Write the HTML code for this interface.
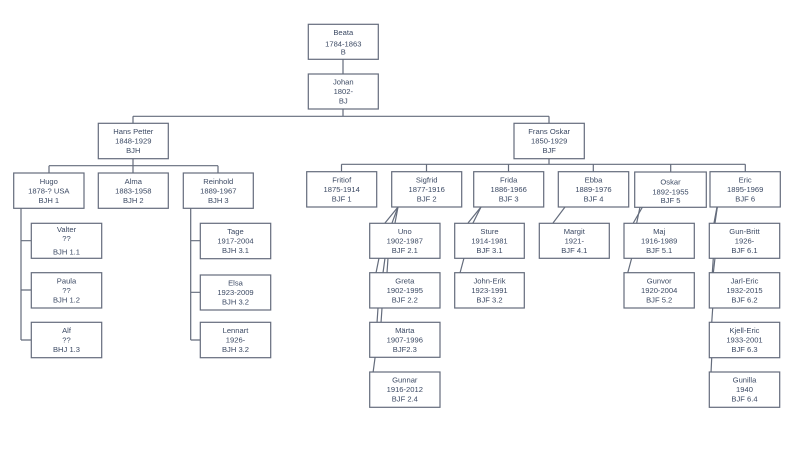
<!DOCTYPE html>
<html><head><meta charset="utf-8"><style>
html,body{margin:0;padding:0;background:#fff;}
svg{display:block;}
text{font-family:"Liberation Sans",sans-serif;font-size:7.6px;fill:#3c4a64;text-anchor:middle;}
rect{fill:#fff;stroke:#646c7c;stroke-width:1.2;}
.c{stroke:#646c7c;stroke-width:1.2;fill:none;}
</style></head><body>
<svg width="799" height="461" viewBox="0 0 799 461" xmlns="http://www.w3.org/2000/svg">
<!-- connectors -->
<g class="c">
<path d="M343 59V74M343 109V116.3M133 116.3H549M133 116.3V123M549 116.3V123"/>
<path d="M133 159V165.7M49 165.7H218M49 165.7V173M133 165.7V173M218 165.7V173"/>
<path d="M549 159V164.3M341.5 164.3H745.3M341.5 164.3V172M426.5 164.3V172M508.5 164.3V172M593.3 164.3V172M670.7 164.3V172M745.3 164.3V172"/>
<path d="M21 208V340M21 240.7H31M21 290H31M21 340H31"/>
<path d="M190.7 208V340M190.7 240.7H200M190.7 292.3H200M190.7 340H200"/>
<!-- Sigfrid diagonals -->
<path d="M398 207L385 223L379 258L376 273L374 285"/>
<path d="M398 207L392 223L385 258L383 273L378 308L377 323L375 335"/>
<path d="M398 207L395 223L388 258L387 273L382 308L381 323L375 358L373 373L372 385"/>
<!-- Frida -->
<path d="M481 207L468 223"/>
<path d="M481 207L473 223L464 258L460 273L458 285"/>
<!-- Ebba -->
<path d="M565 207L553 223"/>
<!-- Oskar -->
<path d="M642.5 207L633.3 223"/>
<path d="M640 207L636.7 223L631.7 258L627.7 273L626 285"/>
<!-- Eric -->
<path d="M717.3 207L714.3 223"/>
<path d="M717.3 207L715 223L715 258L713.3 273L712.5 285"/>
<path d="M717 207L714 223L713.3 258L712.3 273L712.7 308L711.7 323L711.7 358L711 373L711 385"/>
</g>
<!-- boxes -->
<g>
<rect x="308.3" y="24.3" width="70" height="35"/>
<rect x="308.3" y="74" width="70" height="35"/>
<rect x="98.3" y="123.3" width="70" height="35.4"/>
<rect x="514" y="123.3" width="70.3" height="35.4"/>
<rect x="13.7" y="173" width="70.3" height="35.3"/>
<rect x="98.3" y="173" width="70" height="35.3"/>
<rect x="183.3" y="173" width="70" height="35.3"/>
<rect x="306.7" y="171.7" width="70" height="35.3"/>
<rect x="391.7" y="171.7" width="70" height="35.3"/>
<rect x="473.7" y="171.7" width="70" height="35.3"/>
<rect x="558.3" y="171.7" width="70.4" height="35.3"/>
<rect x="634.7" y="172" width="71.6" height="35.3"/>
<rect x="710" y="171.7" width="70.3" height="35.3"/>
<rect x="31.3" y="223.3" width="70.4" height="35"/>
<rect x="31.3" y="272.7" width="70.4" height="35.3"/>
<rect x="31.3" y="322.3" width="70.4" height="35.4"/>
<rect x="200.3" y="223.3" width="70.4" height="35.4"/>
<rect x="200.3" y="275" width="70.4" height="35"/>
<rect x="200.3" y="322.3" width="70.4" height="35.4"/>
<rect x="369.7" y="223.3" width="70.3" height="35"/>
<rect x="369.7" y="272.7" width="70.3" height="35.3"/>
<rect x="369.7" y="322.3" width="70.3" height="35"/>
<rect x="369.7" y="372" width="70.3" height="35.3"/>
<rect x="454.7" y="223.3" width="69.6" height="35"/>
<rect x="454.7" y="272.7" width="69.6" height="35.3"/>
<rect x="539.3" y="223.3" width="70" height="35"/>
<rect x="624" y="223.3" width="70.3" height="35"/>
<rect x="624" y="272.7" width="70.3" height="35.3"/>
<rect x="709.3" y="223.3" width="70.4" height="35"/>
<rect x="709.3" y="272.7" width="70.4" height="35.3"/>
<rect x="709.3" y="322.3" width="70.4" height="35.4"/>
<rect x="709.3" y="372" width="70.4" height="35.3"/>
</g>
<!-- labels -->
<g>
<text x="343.3" y="35">Beata</text><text x="343.3" y="46.7">1784-1863</text><text x="343.3" y="54.7">B</text>
<text x="343.3" y="84.3">Johan</text><text x="343.3" y="93.8">1802-</text><text x="343.3" y="103.3">BJ</text>
<text x="133.3" y="133.8">Hans Petter</text><text x="133.3" y="143.4">1848-1929</text><text x="133.3" y="152.8">BJH</text>
<text x="549.2" y="133.8">Frans Oskar</text><text x="549.2" y="143.4">1850-1929</text><text x="549.2" y="152.8">BJF</text>
<text x="48.8" y="183.8">Hugo</text><text x="48.8" y="193.3">1878-? USA</text><text x="48.8" y="202.8">BJH 1</text>
<text x="133.3" y="183.8">Alma</text><text x="133.3" y="193.3">1883-1958</text><text x="133.3" y="202.8">BJH 2</text>
<text x="218.3" y="183.8">Reinhold</text><text x="218.3" y="193.3">1889-1967</text><text x="218.3" y="202.8">BJH 3</text>
<text x="341.7" y="182.5">Fritiof</text><text x="341.7" y="192">1875-1914</text><text x="341.7" y="201.5">BJF 1</text>
<text x="426.7" y="182.5">Sigfrid</text><text x="426.7" y="192">1877-1916</text><text x="426.7" y="201.5">BJF 2</text>
<text x="508.7" y="182.5">Frida</text><text x="508.7" y="192">1886-1966</text><text x="508.7" y="201.5">BJF 3</text>
<text x="593.5" y="182.5">Ebba</text><text x="593.5" y="192">1889-1976</text><text x="593.5" y="201.5">BJF 4</text>
<text x="670.5" y="184.4">Oskar</text><text x="670.5" y="194.4">1892-1955</text><text x="670.5" y="202.8">BJF 5</text>
<text x="745.2" y="182.5">Eric</text><text x="745.2" y="192">1895-1969</text><text x="745.2" y="201.5">BJF 6</text>
<text x="66.5" y="232">Valter</text><text x="66.5" y="241">??</text><text x="66.5" y="254.4">BJH 1.1</text>
<text x="66.5" y="283.3">Paula</text><text x="66.5" y="292.8">??</text><text x="66.5" y="302.3">BJH 1.2</text>
<text x="66.5" y="333">Alf</text><text x="66.5" y="342.5">??</text><text x="66.5" y="352">BHJ 1.3</text>
<text x="235.5" y="233.8">Tage</text><text x="235.5" y="243.3">1917-2004</text><text x="235.5" y="252.8">BJH 3.1</text>
<text x="235.5" y="285.5">Elsa</text><text x="235.5" y="295">1923-2009</text><text x="235.5" y="304.5">BJH 3.2</text>
<text x="235.5" y="333">Lennart</text><text x="235.5" y="342.5">1926-</text><text x="235.5" y="352">BJH 3.2</text>
<text x="404.8" y="233.8">Uno</text><text x="404.8" y="243.3">1902-1987</text><text x="404.8" y="252.8">BJF 2.1</text>
<text x="404.8" y="283.3">Greta</text><text x="404.8" y="292.8">1902-1995</text><text x="404.8" y="302.3">BJF 2.2</text>
<text x="404.8" y="332.8">Märta</text><text x="404.8" y="342.3">1907-1996</text><text x="404.8" y="351.8">BJF2.3</text>
<text x="404.8" y="382.6">Gunnar</text><text x="404.8" y="392.1">1916-2012</text><text x="404.8" y="401.6">BJF 2.4</text>
<text x="489.5" y="233.8">Sture</text><text x="489.5" y="243.3">1914-1981</text><text x="489.5" y="252.8">BJF 3.1</text>
<text x="489.5" y="283.3">John-Erik</text><text x="489.5" y="292.8">1923-1991</text><text x="489.5" y="302.3">BJF 3.2</text>
<text x="574.3" y="233.8">Margit</text><text x="574.3" y="243.3">1921-</text><text x="574.3" y="252.8">BJF 4.1</text>
<text x="659.2" y="233.8">Maj</text><text x="659.2" y="243.3">1916-1989</text><text x="659.2" y="252.8">BJF 5.1</text>
<text x="659.2" y="283.3">Gunvor</text><text x="659.2" y="292.8">1920-2004</text><text x="659.2" y="302.3">BJF 5.2</text>
<text x="744.5" y="233.8">Gun-Britt</text><text x="744.5" y="243.3">1926-</text><text x="744.5" y="252.8">BJF 6.1</text>
<text x="744.5" y="283.3">Jarl-Eric</text><text x="744.5" y="292.8">1932-2015</text><text x="744.5" y="302.3">BJF 6.2</text>
<text x="744.5" y="333">Kjell-Eric</text><text x="744.5" y="342.5">1933-2001</text><text x="744.5" y="352">BJF 6.3</text>
<text x="744.5" y="382.6">Gunilla</text><text x="744.5" y="392.1">1940</text><text x="744.5" y="401.6">BJF 6.4</text>
</g>
</svg>
</body></html>
